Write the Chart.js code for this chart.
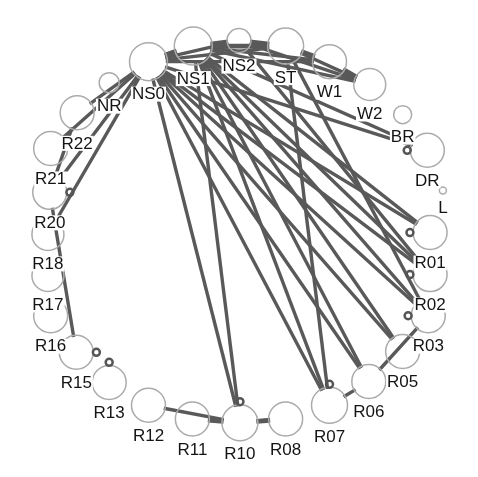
<!DOCTYPE html>
<html>
<head>
<meta charset="utf-8">
<script src="https://cdn.jsdelivr.net/npm/chart.js@4/dist/chart.umd.min.js"></script>
<style>
  html, body { margin: 0; padding: 0; background: #fff; }
  #wrap { width: 478px; height: 477px; position: relative; }
</style>
</head>
<body>
<div id="wrap"><canvas id="net"></canvas></div>
<script>
// Stations on the ring layout (layout units, y grows downward)
const nodeNames = ['NS0','NS1','NS2','ST','W1','W2','BR','DR','L','R01','R02','R03','R05','R06',
                   'R07','R08','R10','R11','R12','R13','R15','R16','R17','R18','R20','R21','R22','NR'];
const nodeX = [140,189,239,290,338,382,418,445,462,448,448,446,418,381,338,290,240,188,140,97,61,33,30,30,32,33,62,97];
const nodeY = [45,28,22,28,45,70,103,142,186,232,278,323,362,395,421,436,440,436,421,396,363,323,279,234,188,140,101,68];
const nodeSize = [19,19,12,18,17,16,9,17,3.5,17,17,17,17,17,18,17,18,17,17,17,17,17,16,16,17,17,17,10];

// Links between stations (weight = number of parallel links)
const edgeFrom = ['NS0','NS0','NS0','NS0','NS1','NS1','NS1','NS1','NS2','NS2','ST','ST','W1',
                  'NS0','NS0','NS0','NS0','NS0','NS0','NS0','NS0',
                  'NS1','NS1','NS1','NS1','NS1','NS1','NS1','NS1',
                  'NS2','ST','ST',
                  'NS0','NS0','NS0','NS0','R22','R20',
                  'R03','R06','R10','R10','R10'];
const edgeTo   = ['NS1','NS2','ST','W1','NS2','ST','W1','W2','ST','W2','W1','W2','W2',
                  'R01','R02','R03','R05','R06','R07','R10','DR',
                  'R01','R02','R03','R05','R06','R07','R10','DR',
                  'R02','R07','R03',
                  'R22','R21','R20','R18','R20','R15',
                  'R06','R07','R08','R11','R12'];
const edgeWeight = [3,1,1,1,2,2,1,1,2,1,2,1,2,
                    1,1,1,1,1,1,1,1,
                    1,1,1,1,1,1,1,1,
                    1,1,1,
                    1,1,1,1,1,1,
                    1,1,2,2,1];

// Stations with a self-link, and the side of the station it sits on (degrees)
const loopNodes = ['DR','R01','R02','R03','R07','R10','R13','R15','R20'];
const loopSide  = [180,180,180,180,270,270,270,0,0];

const idx = Object.fromEntries(nodeNames.map((n, i) => [n, i]));

// Each link runs from the rim of one station circle to the rim of the other
const edgeSets = edgeFrom.map((a, k) => {
  const i = idx[a], j = idx[edgeTo[k]];
  const dx = nodeX[j] - nodeX[i], dy = nodeY[j] - nodeY[i];
  const len = Math.hypot(dx, dy);
  const ux = dx / len, uy = dy / len;
  return {
    type: 'line',
    data: [
      { x: nodeX[i] + ux * nodeSize[i], y: nodeY[i] + uy * nodeSize[i] },
      { x: nodeX[j] - ux * nodeSize[j], y: nodeY[j] - uy * nodeSize[j] }
    ],
    borderColor: '#595959',
    borderWidth: 2 + 1.4 * edgeWeight[k],
    pointRadius: 0,
    tension: 0,
    fill: false,
    clip: false,
    order: 3
  };
});

const nodeSet = {
  type: 'bubble',
  data: nodeNames.map((n, i) => ({ x: nodeX[i], y: nodeY[i], r: nodeSize[i] })),
  backgroundColor: 'rgba(255,255,255,0)',
  borderColor: '#ababab',
  borderWidth: 1.5,
  clip: false,
  order: 1
};

const loopSet = {
  type: 'bubble',
  data: loopNodes.map((n, k) => {
    const i = idx[n];
    const a = loopSide[k] * Math.PI / 180;
    const d = nodeSize[i] + 5;
    return { x: nodeX[i] + Math.cos(a) * d, y: nodeY[i] + Math.sin(a) * d, r: 3.5 };
  }),
  backgroundColor: 'rgba(255,255,255,0)',
  borderColor: '#555555',
  borderWidth: 2.5,
  clip: false,
  order: 0
};

// Station names under each circle
const stationLabels = {
  id: 'stationLabels',
  afterDatasetsDraw(chart) {
    const meta = chart.getDatasetMeta(edgeSets.length);
    const ctx = chart.ctx;
    ctx.save();
    ctx.font = '17px "Liberation Sans", Arial, sans-serif';
    ctx.textAlign = 'center';
    ctx.textBaseline = 'middle';
    meta.data.forEach((el, i) => {
      const x = el.x;
      const y = el.y + nodeSize[i] + 13;
      const w = ctx.measureText(nodeNames[i]).width;
      ctx.fillStyle = '#ffffff';
      ctx.fillRect(x - w / 2 - 1, y - 7, w + 2, 15);
      ctx.fillStyle = '#141414';
      ctx.fillText(nodeNames[i], x, y + 1);
    });
    ctx.restore();
  }
};

new Chart(document.getElementById('net'), {
  type: 'scatter',
  data: { datasets: [...edgeSets, nodeSet, loopSet] },
  options: {
    responsive: true,
    maintainAspectRatio: false,
    animation: false,
    events: [],
    layout: { padding: 0 },
    plugins: { legend: { display: false }, tooltip: { enabled: false } },
    scales: {
      x: { type: 'linear', min: 0, max: 478, display: false },
      y: { type: 'linear', min: 0, max: 477, reverse: true, display: false }
    }
  },
  plugins: [stationLabels]
});
</script>
</body>
</html>
